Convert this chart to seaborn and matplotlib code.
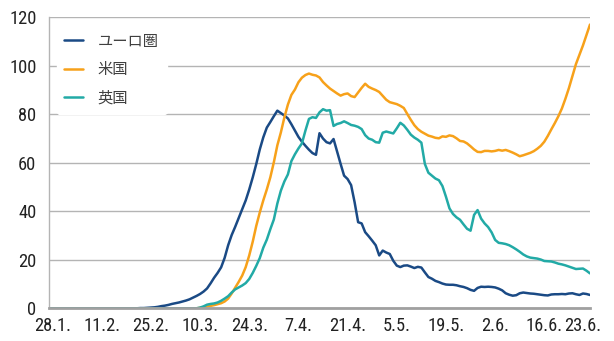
import pandas as pd
import seaborn as sns
import matplotlib.pyplot as plt

# daily values (cases per million, 7-day avg), 27.1.2020 - 29.6.2020
start_date = "2020-01-27"
end_date = "2020-06-29"

euro = [
    0, 0, 0, 0, 0, 0, 0, 0, 0, 0,
    0, 0, 0, 0, 0, 0, 0, 0, 0, 0,
    0, 0, 0, 0, 0, 0, 0.1, 0.1, 0.2, 0.3,
    0.4, 0.6, 0.9, 1.1, 1.4, 1.8, 2.1, 2.4, 2.8, 3.2,
    3.7, 4.4, 5.1, 5.9, 6.9, 8.2, 10.3, 12.6, 14.6, 16.9,
    20.8, 26.0, 30.2, 33.6, 37.2, 40.8, 44.5, 49.0, 54.0, 59.5,
    65.5, 70.5, 74.5, 76.8, 79.2, 81.5, 80.5, 79.5, 78.3, 75.9,
    73.3, 70.7, 68.7, 67.0, 65.4, 64.0, 63.3, 72.2, 70.0, 68.5,
    68.0, 69.8, 64.7, 59.6, 54.7, 53.3, 50.8, 43.7, 35.5, 35.0,
    31.4, 29.7, 27.9, 26.0, 21.8, 23.8, 23.0, 22.4, 19.6, 17.6,
    17.0, 17.6, 17.7, 17.2, 16.6, 17.1, 16.8, 14.8, 12.9, 12.2,
    11.3, 10.8, 10.2, 9.8, 9.7, 9.7, 9.5, 9.1, 8.8, 8.3,
    7.6, 7.2, 8.4, 8.9, 8.8, 8.9, 8.8, 8.6, 8.1, 7.4,
    6.2, 5.6, 5.2, 5.4, 6.2, 6.5, 6.3, 6.1, 6.0, 5.8,
    5.6, 5.4, 5.3, 5.7, 5.8, 5.8, 5.9, 5.8, 6.1, 6.2,
    5.8, 5.5, 6.1, 5.9, 5.5,
]

us = [
    0, 0, 0, 0, 0, 0, 0, 0, 0, 0,
    0, 0, 0, 0, 0, 0, 0, 0, 0, 0,
    0, 0, 0, 0, 0, 0, 0, 0, 0, 0,
    0, 0, 0, 0, 0, 0, 0, 0, 0, 0,
    0, 0, 0, 0.2, 0.4, 0.7, 1.0, 1.3, 1.7, 2.1,
    2.8, 4.0, 6.1, 8.5, 10.9, 13.5, 17.0, 21.8, 27.5, 34.0,
    39.5, 44.5, 49.0, 54.0, 60.2, 67.2, 72.5, 78.7, 84.0, 88.0,
    90.2, 93.2, 95.1, 96.2, 96.8, 96.3, 96.0, 95.2, 93.3, 91.9,
    90.6, 89.6, 88.6, 87.7, 88.3, 88.6, 87.5, 87.1, 89.0, 90.9,
    92.6, 91.3, 90.6, 90.0, 89.2, 87.6, 86.0, 85.0, 84.6, 84.2,
    83.5, 82.6, 80.1, 77.7, 75.5, 73.9, 72.8, 72.0, 71.2, 70.8,
    70.3, 70.1, 70.9, 70.7, 71.3, 71.0, 70.1, 69.0, 68.8, 68.0,
    66.8, 65.5, 64.5, 64.4, 64.9, 64.9, 64.7, 64.9, 65.3, 65.0,
    65.3, 64.8, 64.2, 63.5, 62.7, 63.1, 63.6, 64.1, 64.8, 65.8,
    67.0, 68.7, 71.1, 73.8, 76.4, 79.2, 82.4, 86.4, 90.8, 95.7,
    100.7, 104.5, 108.4, 112.7, 117.0,
]

uk = [
    0, 0, 0, 0, 0, 0, 0, 0, 0, 0,
    0, 0, 0, 0, 0, 0, 0, 0, 0, 0,
    0, 0, 0, 0, 0, 0, 0, 0, 0, 0,
    0, 0, 0, 0, 0, 0, 0, 0, 0, 0,
    0, 0, 0, 0.3, 0.8, 1.5, 1.8, 2.0, 2.4, 3.1,
    4.0, 5.0, 6.5, 7.8, 8.6, 9.4, 10.4, 12.1, 14.6, 17.5,
    20.7, 25.0, 28.3, 32.6, 36.6, 43.2, 48.5, 52.3, 55.2, 60.7,
    63.5, 65.9, 68.0, 73.3, 78.1, 78.8, 78.5, 80.8, 82.1, 81.5,
    81.7, 75.2, 76.0, 76.4, 77.1, 76.4, 75.6, 75.3, 74.8, 73.9,
    71.4, 70.0, 69.5, 68.5, 68.3, 72.4, 72.9, 72.5, 72.1, 74.2,
    76.5, 75.4, 73.6, 71.6, 70.4, 69.5, 68.3, 59.5, 55.9, 54.7,
    53.5, 52.8, 50.4, 46.0, 41.2, 38.9, 37.5, 36.5, 34.6, 32.8,
    32.0, 38.5, 40.5, 37.0, 35.0, 33.5, 31.3, 28.2, 27.0, 26.8,
    26.5, 26.0, 25.2, 24.3, 23.3, 22.2, 21.4, 20.9, 20.7, 20.5,
    20.1, 19.5, 19.4, 19.3, 18.9, 18.4, 18.1, 17.7, 17.2, 16.7,
    16.2, 16.3, 16.4, 15.5, 14.4,
]

series_names = ["ユーロ圏", "米国", "英国"]
colors = ["#1a4a85", "#f7a11a", "#22aaa6"]

tick_dates = ["2020-01-28", "2020-02-11", "2020-02-25", "2020-03-10", "2020-03-24",
              "2020-04-07", "2020-04-21", "2020-05-05", "2020-05-19", "2020-06-02",
              "2020-06-16", "2020-06-27"]
tick_labels = ["28.1.", "11.2.", "25.2.", "10.3.", "24.3.", "7.4.", "21.4.",
               "5.5.", "19.5.", "2.6.", "16.6.", "23.6."]
y_ticks = [0, 20, 40, 60, 80, 100, 120]

if __name__ == "__main__":
    dates = pd.date_range(start_date, end_date, freq="D")
    df = pd.concat([
        pd.DataFrame({"date": dates, "value": vals, "region": name})
        for name, vals in zip(series_names, [euro, us, uk])
    ])

    sns.set_theme(style="white")
    plt.rcParams["font.family"] = ["Roboto Condensed", "Liberation Sans Narrow",
                                   "DejaVu Sans", "Noto Sans CJK JP"]
    plt.rcParams["font.stretch"] = "condensed"

    fig = plt.figure(figsize=(6.14, 3.41), dpi=100)
    ax = fig.add_axes([0.0798, 0.0959, 0.8811, 0.8534])

    sns.lineplot(data=df, x="date", y="value", hue="region", hue_order=series_names,
                 palette=dict(zip(series_names, colors)), linewidth=1.8, ax=ax)

    ax.set_xlim(dates[0], dates[-1])
    ax.set_ylim(0, 120)
    ax.set_xticks(pd.to_datetime(tick_dates))
    ax.set_xticklabels(tick_labels)
    ax.set_yticks(y_ticks)
    ax.tick_params(axis="both", length=0, labelsize=13.3, colors="#222222")
    ax.tick_params(axis="y", pad=9)
    ax.tick_params(axis="x", pad=6)

    ax.grid(axis="y", color="#b4b4b4", linewidth=1.0)
    ax.set_axisbelow(True)
    for side in ["top", "right"]:
        ax.spines[side].set_visible(False)
    ax.spines["left"].set_color("#b4b4b4")
    ax.spines["left"].set_linewidth(1.0)
    ax.spines["bottom"].set_color("#a0a0a0")
    ax.spines["bottom"].set_linewidth(2.0)

    ax.set_xlabel("")
    ax.set_ylabel("")

    leg = ax.legend(loc="upper left", bbox_to_anchor=(0, 1), frameon=True,
                    handlelength=1.2, handletextpad=1.0,
                    labelspacing=0.75, borderpad=0.5, borderaxespad=0.5,
                    prop={"family": ["Noto Sans CJK JP", "DejaVu Sans"], "size": 11})
    leg.get_frame().set_facecolor("white")
    leg.get_frame().set_edgecolor("white")
    leg.get_frame().set_alpha(1)
    for text in leg.get_texts():
        text.set_color("#404040")

    plt.savefig("out.png", dpi=100)
